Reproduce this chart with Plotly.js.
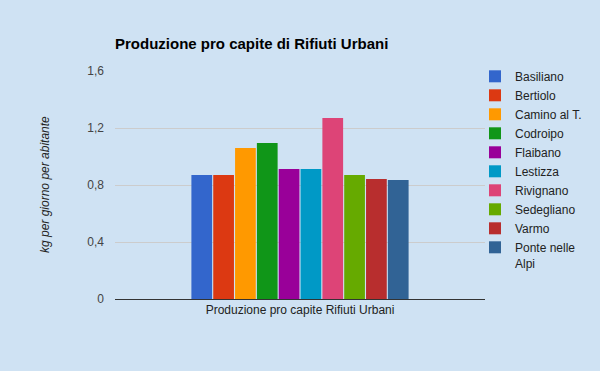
<!DOCTYPE html>
<html>
<head>
<meta charset="utf-8">
<script src="https://cdn.plot.ly/plotly-3.0.1.min.js"></script>
<style>html,body{margin:0;padding:0;background:#cfe2f3;}</style>
</head>
<body>
<div id="chart" style="width:600px;height:371px;"></div>
<script>
const category = ["Produzione pro capite Rifiuti Urbani"];
const comuni = ["Basiliano", "Bertiolo", "Camino al T.", "Codroipo", "Flaibano", "Lestizza", "Rivignano", "Sedegliano", "Varmo", "Ponte nelle<br>Alpi"];
const valori = [0.87, 0.87, 1.06, 1.095, 0.912, 0.912, 1.27, 0.87, 0.842, 0.835];
const colori = ["#3366cc", "#dc3912", "#ff9900", "#109618", "#990099", "#0099c6", "#dd4477", "#66aa00", "#b82e2e", "#316395"];
const yTicks = [0, 0.4, 0.8, 1.2, 1.6];

const traces = comuni.map((c, i) => ({
  type: "bar",
  name: c,
  x: category,
  y: [valori[i]],
  marker: {color: colori[i], line: {width: 0}},
  hoverinfo: "y+name"
}));

const layout = {
  width: 600, height: 371,
  paper_bgcolor: "#cfe2f3",
  plot_bgcolor: "#cfe2f3",
  separators: ",.",
  font: {family: "Liberation Sans, Arial, sans-serif", size: 12, color: "#222"},
  margin: {l: 115, r: 115, t: 71, b: 72, pad: 0, autoexpand: false},
  title: {
    text: "<b>Produzione pro capite di Rifiuti Urbani</b>",
    font: {family: "Liberation Sans, Arial, sans-serif", size: 15, color: "#000"},
    xref: "paper", x: 0, xanchor: "left",
    yref: "container", y: 1 - 44/371, yanchor: "middle"
  },
  barmode: "group",
  bargap: 0.41,
  bargroupgap: 0.05,
  xaxis: {
    type: "category",
    showline: true, linecolor: "#333", linewidth: 1,
    showgrid: false, ticks: "",
    tickfont: {size: 12, color: "#222"},
    fixedrange: true
  },
  yaxis: {
    range: [0, 1.6],
    tickvals: yTicks,
    showgrid: true, gridcolor: "#cccccc", gridwidth: 1,
    zeroline: false, showline: false, ticks: "",
    ticklabelstandoff: 10,
    tickfont: {size: 12, color: "#444"},
    fixedrange: true
  },
  legend: {
    xref: "container", x: 475/600, xanchor: "left",
    yref: "container", y: 1 - 62/371, yanchor: "top",
    maxheight: 300,
    valign: "top",
    bgcolor: "rgba(0,0,0,0)",
    font: {size: 12, color: "#222"},
    tracegroupgap: 0,
    itemwidth: 30,
    traceorder: "normal"
  },
  annotations: [{
    text: "<i>kg per giorno per abitante</i>",
    textangle: -90,
    xref: "paper", yref: "paper",
    x: (45 - 115) / 370, y: 0.5,
    xanchor: "center", yanchor: "middle",
    showarrow: false,
    font: {size: 12, color: "#222"}
  }],
  showlegend: true
};

Plotly.newPlot("chart", traces, layout, {displayModeBar: false, staticPlot: true});
</script>
</body>
</html>
